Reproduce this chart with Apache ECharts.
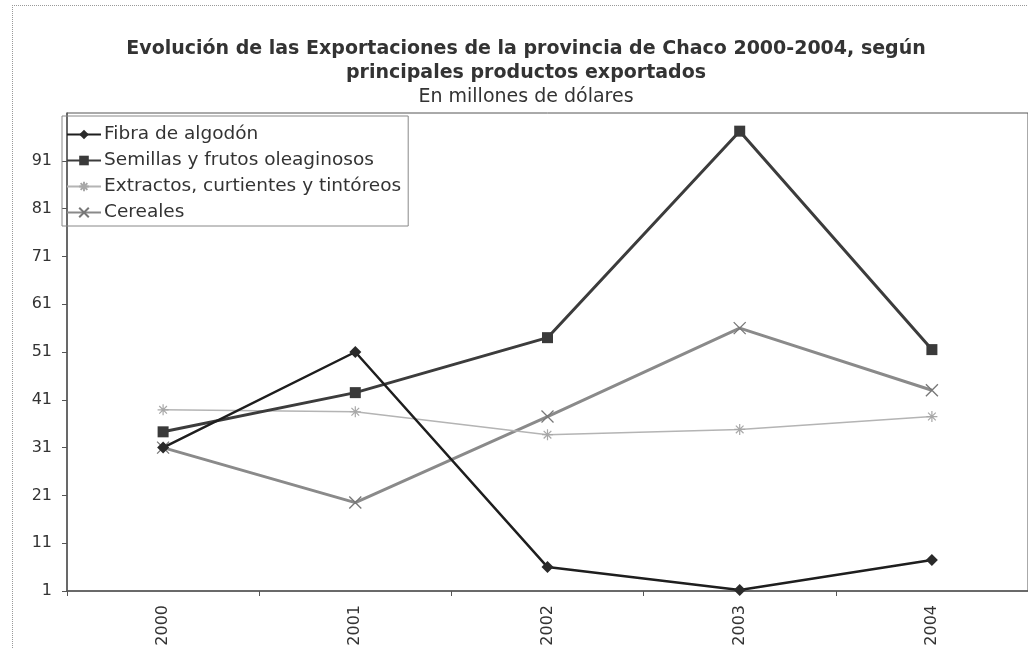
<!DOCTYPE html>
<html>
<head>
<meta charset="utf-8">
<script src="https://cdn.jsdelivr.net/npm/echarts@6.0.0/dist/echarts.min.js"></script>
<style>
html, body { margin: 0; padding: 0; background: #fff; overflow: hidden; }
#frame {
  position: absolute; left: 12px; top: 5px; width: 1100px; height: 700px;
  border-left: 1px dotted #999; border-top: 1px dotted #999;
}
#myChart { position: absolute; left: 0; top: 0; width: 1028px; height: 649px; }
</style>
</head>
<body>
<div id="frame"></div>
<div id="myChart"></div>
<script>
// datos (millones de dolares)
var years = ['2000', '2001', '2002', '2003', '2004'];
var fibra = [31, 51, 6, 1.2, 7.5];
var semillas = [34.3, 42.5, 54, 97.2, 51.5];
var extractos = [38.9, 38.5, 33.7, 34.8, 37.5];
var cereales = [31, 19.5, 37.5, 56, 43];
var names = ['Fibra de algodón', 'Semillas y frutos oleaginosos', 'Extractos, curtientes y tintóreos', 'Cereales'];

var font = 'DejaVu Sans, Verdana, sans-serif';
var starPath = 'path://M5,0L5,10M0,5L10,5M1.5,1.5L8.5,8.5M8.5,1.5L1.5,8.5';
var crossPath = 'path://M0,0L10,10M10,0L0,10';

var myChart = echarts.init(document.getElementById('myChart'));
var option = {
  backgroundColor: 'transparent',
  animation: false,
  title: {
    text: 'Evolución de las Exportaciones de la provincia de Chaco 2000-2004, según\nprincipales productos exportados',
    subtext: 'En millones de dólares',
    left: 521,
    textAlign: 'center',
    top: 32,
    itemGap: 1,
    textStyle: { fontFamily: font, fontSize: 19, fontWeight: 'bold', color: '#333', lineHeight: 24 },
    subtextStyle: { fontFamily: font, fontSize: 19, color: '#333', lineHeight: 22 }
  },
  legend: {
    orient: 'vertical',
    left: 62,
    top: 116,
    padding: [9, 7, 4, 4],
    itemGap: 7,
    itemWidth: 34,
    itemHeight: 12,
    borderColor: '#888',
    borderWidth: 1,
    data: names,
    textStyle: { fontFamily: font, fontSize: 18.5, color: '#333', padding: [0, 0, 0, -2] }
  },
  grid: {
    left: 67, top: 113, width: 973, bottom: 58,
    show: true, borderColor: '#555', borderWidth: 1
  },
  xAxis: {
    type: 'category',
    data: years,
    boundaryGap: true,
    axisLine: { lineStyle: { color: '#555', width: 1.5 } },
    axisTick: { show: true, length: 5, interval: 0, lineStyle: { color: '#555' } },
    axisLabel: { rotate: 90, margin: 14, fontFamily: font, fontSize: 16, color: '#333' },
    splitLine: { show: false }
  },
  yAxis: {
    type: 'value',
    min: 1,
    max: 101,
    interval: 10,
    axisLine: { show: true, lineStyle: { color: '#555', width: 1.5 } },
    axisTick: { show: true, length: 5, lineStyle: { color: '#555' } },
    axisLabel: { margin: 15, fontFamily: font, fontSize: 16, color: '#333', showMaxLabel: false },
    splitLine: { show: false }
  },
  series: [
    {
      name: names[0], type: 'line', data: fibra, z: 5,
      symbol: 'diamond', symbolSize: 12,
      lineStyle: { color: '#1e1e1e', width: 2.5 },
      itemStyle: { color: '#2a2a2a' }
    },
    {
      name: names[1], type: 'line', data: semillas, z: 4,
      symbol: 'rect', symbolSize: 11,
      lineStyle: { color: '#3c3c3c', width: 3 },
      itemStyle: { color: '#3a3a3a' }
    },
    {
      name: names[2], type: 'line', data: extractos, z: 3,
      symbol: starPath, symbolSize: 11,
      lineStyle: { color: '#b4b4b4', width: 1.5 },
      itemStyle: { color: 'none', borderColor: '#a8a8a8', borderWidth: 1.2 }
    },
    {
      name: names[3], type: 'line', data: cereales, z: 2,
      symbol: crossPath, symbolSize: 12,
      lineStyle: { color: '#8a8a8a', width: 3 },
      itemStyle: { color: 'none', borderColor: '#777', borderWidth: 1.3 }
    }
  ]
};
myChart.setOption(option, true);
</script>
</body>
</html>
